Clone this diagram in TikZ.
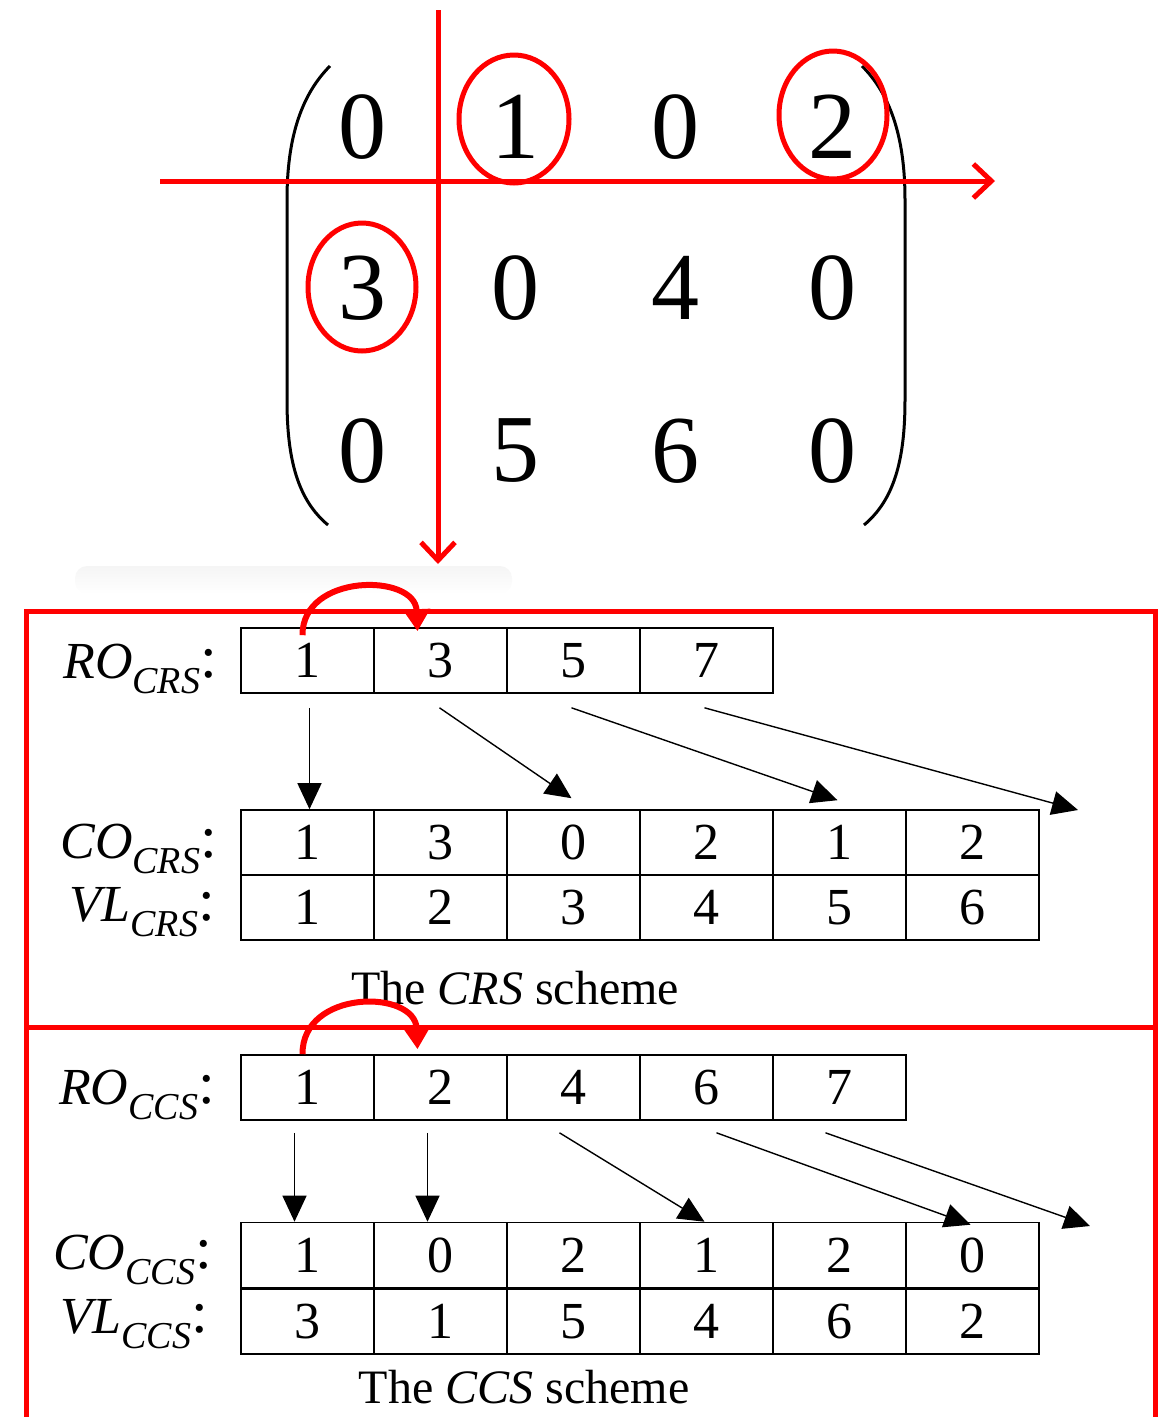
\documentclass[tikz,border=0pt]{standalone}
\usepackage{fontspec}
\setmainfont{Liberation Serif}
\usetikzlibrary{arrows.meta,calc}
\newcommand\mylab[2]{{\fontsize{52}{52}\selectfont\itshape #1}\raisebox{-15pt}{\fontsize{38}{38}\selectfont\itshape #2}\raisebox{1pt}{\fontsize{60}{60}\selectfont :}}
\begin{document}
\begin{tikzpicture}[x=1pt,y=-1pt,
  redln/.style={draw=red, line width=5pt},
  mat/.style={font=\fontsize{96}{96}\selectfont, inner sep=0pt},
  cell/.style={draw=black, line width=1.6pt, minimum width=133pt, minimum height=65pt, inner sep=0pt, font=\fontsize{52}{52}\selectfont},
  lbl/.style={anchor=base east, inner sep=0pt},
  blk/.style={draw=black, line width=1.4pt, -{Triangle[length=26pt,width=24pt]}},
  redarc/.style={draw=red, line width=6pt, -{Triangle[length=22pt,width=26pt]}},
  caption/.style={font=\fontsize{48}{48}\selectfont, anchor=base, inner sep=0pt}
]
\useasboundingbox (0,0) rectangle (1159,1417);

% faint shadow
\shade[top color=gray!8, bottom color=white, rounded corners=12pt] (75,566) rectangle (512,594);

% matrix
\node[mat] (m11) at (362,127) {0};
\node[mat] (m12) at (515,127) {1};
\node[mat] (m13) at (675,127) {0};
\node[mat] (m14) at (832,127) {2};
\node[mat] (m21) at (362,288) {3};
\node[mat] (m22) at (515,288) {0};
\node[mat] (m23) at (675,288) {4};
\node[mat] (m24) at (832,288) {0};
\node[mat] (m31) at (362,451) {0};
\node[mat] (m32) at (515,451) {5};
\node[mat] (m33) at (675,451) {6};
\node[mat] (m34) at (832,451) {0};

% parentheses
\draw[line width=3pt] (330,66) .. controls (296,100) and (287,150) .. (287,200) -- (287,400) .. controls (287,460) and (298,500) .. (328,525);
\draw[line width=3pt] (862,66) .. controls (896,100) and (905,150) .. (905,200) -- (905,400) .. controls (905,460) and (894,500) .. (864,525);

% red ellipses
\draw[redln] ($(m12)+(-1,-8)$) ellipse [x radius=55, y radius=64];
\draw[redln] ($(m14)+(1,-12)$) ellipse [x radius=54, y radius=64];
\draw[redln] ($(m21)+(0,-1)$) ellipse [x radius=54, y radius=64];

% red axes
\coordinate (hstart) at (160,181);
\coordinate (hend) at (995,181);
\coordinate (vstart) at (438,10);
\coordinate (vend) at (438,564);
\draw[redln, -{Straight Barb[length=18pt,width=34pt,line width=5pt]}] (hstart) -- (hend);
\draw[redln, -{Straight Barb[length=18pt,width=34pt,line width=5pt]}] (vstart) -- (vend);

% red frame
\draw[redln] (26,1430) -- (26,611) -- (1155,611) -- (1155,1430);
\draw[redln] (26,1027) -- (1155,1027);

% CRS tables
\foreach \v [count=\i] in {1,3,5,7}
  \node[cell] (crsro\i) at ({241+133*(\i-0.5)},660.5) {\v};
\foreach \v [count=\i] in {1,3,0,2,1,2}
  \node[cell] (crsco\i) at ({241+133*(\i-0.5)},842.5) {\v};
\foreach \v [count=\i] in {1,2,3,4,5,6}
  \node[cell] (crsvl\i) at ({241+133*(\i-0.5)},907.5) {\v};

\node[lbl] (lrocrs) at (217,678) {\mylab{RO}{CRS}};
\node[lbl] (lcocrs) at (217,858) {\mylab{CO}{CRS}};
\node[lbl] (lvlcrs) at (215,921) {\mylab{VL}{CRS}};

\coordinate (crsend) at (1078,810);
\draw[blk] ($(crsro1.south)+(2,14)$) -- ($(crsco1.north)+(2,0)$);
\draw[blk] ($(crsro2.south)+(-1,14)$) -- ($(crsco3.north)+(-2,-11)$);
\draw[blk] ($(crsro3.south)+(-2,14)$) -- ($(crsco5.north)+(-2,-9)$);
\draw[blk] ($(crsro4.south)+(-2,14)$) -- (crsend);

\draw[redarc] ($(crsro1.north)+(-5,8)$) .. controls (302,573) and (415,573) .. ($(crsro2.north)+(-23,4)$);

\node[caption] (capcrs) at (515,1004) {The \textit{CRS} scheme};

% CCS tables
\foreach \v [count=\i] in {1,2,4,6,7}
  \node[cell] (ccsro\i) at ({241+133*(\i-0.5)},1087.5) {\v};
\foreach \v [count=\i] in {1,0,2,1,2,0}
  \node[cell] (ccsco\i) at ({241+133*(\i-0.5)},1255) {\v};
\foreach \v [count=\i] in {3,1,5,4,6,2}
  \node[cell] (ccsvl\i) at ({241+133*(\i-0.5)},1321.5) {\v};

\node[lbl] (lroccs) at (215,1104) {\mylab{RO}{CCS}};
\node[lbl] (lcoccs) at (212,1269) {\mylab{CO}{CCS}};
\node[lbl] (lvlccs) at (208,1333) {\mylab{VL}{CCS}};

\coordinate (ccsend) at (1090,1226);
\draw[blk] ($(ccsro1.south)+(-13,12)$) -- ($(ccsco1.north)+(-13,0)$);
\draw[blk] ($(ccsro2.south)+(-13,12)$) -- ($(ccsco2.north)+(-13,0)$);
\draw[blk] ($(ccsro3.south)+(-14,12)$) -- ($(ccsco4.north)+(-2,0)$);
\draw[blk] ($(ccsro4.south)+(10,12)$) -- ($(ccsco6.north)+(-2,3)$);
\draw[blk] ($(ccsro5.south)+(-14,12)$) -- (ccsend);

\draw[redarc] ($(ccsro1.north)+(-5,0)$) .. controls (302,989) and (415,989) .. ($(ccsro2.north)+(-23,-5)$);

\node[caption] (capccs) at (524,1403) {The \textit{CCS} scheme};
\end{tikzpicture}
\end{document}
